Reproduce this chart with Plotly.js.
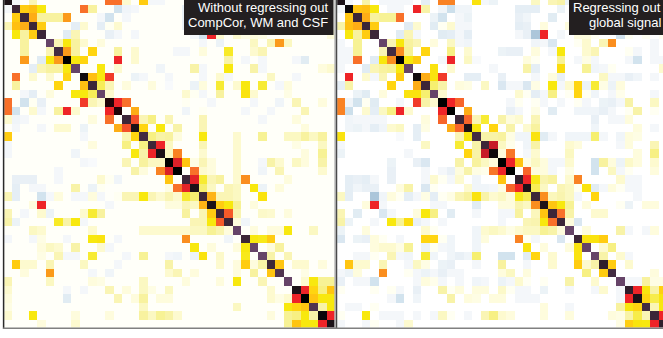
<!DOCTYPE html>
<html><head><meta charset="utf-8">
<script src="https://cdn.plot.ly/plotly-3.0.1.min.js"></script>
<style>html,body{margin:0;padding:0;background:#fff;overflow:hidden}#c{width:663px;height:338px}</style>
</head><body><div id="c"></div>
<script>
const leftTitleLines = ["Without regressing out","CompCor, WM and CSF"];
const rightTitleLines = ["Regressing out","global signal"];
const leftDiagonal = [85,90,90,90,90,100,92,80,100,83,90,100,78,78,90,85,92,90,85,80,80,90,85,90,85,90,90,100,90,100,100,90,95,100,85,80,95,82,85];
const rightDiagonal = [85,82,90,90,90,100,92,80,100,83,90,100,80,80,90,85,92,90,83,80,80,88,85,90,85,90,90,100,90,100,100,88,92,100,88,85,92,90,88];
// each row lists column: correlation (x100) for the columns right of the diagonal
const leftUpper = [
{1:-3,3:12,12:55,13:55,14:8,16:38,17:-3,18:-3,23:12,25:12,26:14,28:-3,33:12,34:8,35:6,36:5,37:8},
{2:38,3:42,4:28,9:55,10:15,13:-12,14:-4,15:-3,21:-6,22:-7,23:-7,26:-5,31:38},
{3:45,4:15,5:15,6:15,7:48,11:-3,12:-12,14:-3,21:-6,25:-3,31:8,32:6},
{4:38,8:-7,9:8,11:-7,12:3,13:8,21:-6,22:-3,24:6,27:10,28:-3,31:8,37:28},
{7:-8,8:12,12:-6,13:-3,15:-3,22:-3,23:-12,24:62,25:8,27:8,28:5,29:6,30:5,38:6},
{6:12,7:28,8:15,9:8,11:6,23:-3,25:-5,29:10,31:12,32:48,33:10},
{7:48,8:15,10:35,13:15,15:8,20:-3,21:-3,23:6,26:26,29:8,30:12},
{8:28,9:35,13:62,15:8,26:14,28:-3,30:-3,34:-3,35:-8},
{11:28,13:8,18:-4,22:14,23:-3,26:28,29:14,30:-3,37:6,38:8},
{10:42,11:28,12:60,15:-5,16:-3,19:-3,23:-3,25:8,26:-3,31:10,34:-3},
{11:22,12:12,14:6,17:6,19:-2,22:-5,23:6,25:25,27:8,28:28,30:25,32:-3,33:6},
{12:8,21:8,22:3,23:-3,25:15,28:30,29:8,33:5},
{13:62,14:55,21:3,24:-3,29:-3,32:-4,34:12,37:6},
{15:45,21:-4,23:3,28:-3,31:-3,35:12},
{15:58,16:12,17:18,19:12,23:12,30:-3,34:6},
{16:35,18:28,20:14,23:12,35:6},
{17:18,18:14,19:15,20:6,23:28,27:8,30:16,33:10,34:10,35:15,36:10,37:15},
{18:62,19:10,23:12,27:8,34:5,37:10},
{19:10,20:52,23:8,27:8,35:6,37:16},
{20:64,21:40,22:5,23:12,24:6,27:8,30:-3,31:14,32:8,34:10,35:6,37:14},
{22:55,23:8,24:6,27:8,30:-4,32:12,37:8},
{22:63,23:25,24:12,25:15,27:8,28:50,33:6},
{23:20,24:10,26:12,27:10,29:28,30:-5,32:6},
{24:44,25:12,26:12,27:10,30:30},
{25:38,26:28,27:16,29:6},
{26:57,27:13,30:9,31:8,33:6},
{27:6,28:-4},
{29:6,31:6,32:6,33:28,36:10},
{29:28,30:27,31:38},
{31:6,32:15},
{31:14,33:12},
{32:40,34:8,35:8,37:6},
{35:5},
{35:8,36:28,37:16,38:16},
{35:62,36:35,37:18,38:40},
{36:40,37:28,38:28},
{37:14,38:28},
{38:62},
{}
];
const rightUpper = [
{1:-3,3:14,5:-3,6:-3,7:-3,8:-3,10:-7,12:52,13:52,16:30,17:-3,18:-5,23:10,25:12,26:14,27:-5,28:-10,32:-3,33:-6,34:3,37:3,38:-3},
{2:40,3:42,4:28,6:-3,7:-3,9:62,10:14,12:-4,13:-14,14:-4,15:-4,21:-7,22:-7,23:-7,26:-5,31:40,32:-5,36:-3},
{3:45,4:15,5:16,6:16,7:55,11:-5,12:-12,14:-3,15:-5,21:-6,22:-4,25:-8,28:-5,30:-3,31:8,32:6,33:-3,36:-3},
{4:38,8:-8,9:8,11:-8,12:3,13:8,14:-3,15:-3,21:-7,22:-6,24:6,27:6,28:-6,30:-3,31:8,33:-3,37:28,38:-3},
{7:-8,8:12,9:-3,12:-8,13:-7,14:-3,15:-7,21:-3,22:-6,23:-25,24:62,26:-3,28:6,29:6,30:3,33:-12,34:3,36:3,38:3},
{6:12,7:28,8:15,9:12,11:6,13:10,14:-3,15:-4,23:-4,24:-3,25:-10,28:3,29:8,31:12,32:50,37:-3},
{7:50,8:16,10:35,13:18,15:8,19:-5,20:-6,21:-6,23:6,25:-3,26:28,29:8,30:12,34:3,35:-3,37:-3},
{8:28,9:38,12:-3,13:62,15:10,16:-2,22:6,23:3,26:16,28:-3,29:5,30:-3,34:-3,35:-12,37:-3,38:-3},
{11:30,13:8,18:-3,22:14,23:-7,26:32,29:16,30:-4,31:-3,32:3,38:8},
{10:45,11:30,12:60,15:-7,16:-7,19:-6,23:-3,25:6,26:-6,31:10,32:-3,33:-3,34:-6,35:-4,37:-3},
{11:20,12:14,14:6,15:5,17:10,19:-10,20:-3,21:-3,22:-10,23:5,25:28,26:-3,27:8,28:35,29:-5,30:25,31:5,32:-5,33:6},
{12:8,21:8,22:3,23:-7,24:-3,25:18,27:3,28:35,29:3,30:-4,32:-3,33:4,37:-3},
{13:62,14:56,20:-3,21:3,23:3,24:-3,26:-3,28:3,29:-3,31:-5,32:-6,33:-3,34:14,37:10},
{15:45,20:-6,21:-3,23:5,25:-8,28:-4,29:-4,30:-4,31:-6,32:-3,34:3,35:14,37:3},
{15:56,16:12,17:25,19:14,20:6,21:8,23:12,30:-6,32:-3,33:-3,34:6},
{16:28,18:35,20:14,22:8,23:15,30:-4,35:6,37:-3},
{17:14,18:14,19:15,20:5,21:-4,22:-4,23:30,24:-8,25:-3,27:-4,28:-4,29:-4,30:20,31:-3,33:-4,34:6,35:5},
{18:66,19:10,20:4,22:-4,23:14,27:8,28:6,33:-3,34:6,37:12},
{19:6,20:54,22:-3,23:8,27:10,35:6,37:18},
{20:62,21:40,22:5,23:10,24:6,25:-3,26:-3,27:8,30:-12,31:15,32:6,33:-5,34:9,35:6,37:8},
{22:56,23:6,24:6,25:-3,27:5,30:-12,32:10,33:-3,34:3,37:6},
{22:62,23:27,24:13,25:15,27:8,28:52,33:8,34:-3,35:-3},
{23:22,24:10,26:12,27:10,28:3,29:30,30:-8,31:-3,32:6,33:3,34:-3,35:-3},
{24:50,25:11,26:13,27:10,28:-3,30:35,35:-3},
{25:40,26:28,27:16,29:6,33:3,34:-5,36:6,37:6},
{26:55,27:14,30:8,31:8},
{27:6,28:-10},
{29:6,33:14,34:-3,36:-3,37:6},
{29:30,30:30,31:38},
{31:8,32:18},
{31:14,33:8,34:-3},
{32:38,34:8},
{37:6},
{34:-3,35:-3,36:15,37:5,38:5},
{35:62,36:29,37:14,38:37},
{36:35,37:23,38:29},
{37:12,38:28},
{38:62},
{}
];
// faint cream level of the cells too pale to read individually, per panel
const leftFaintLevel = 1.5;
const rightFaintLevel = 0;
function matrix(diag, upper, faint){
  const n = diag.length, z = [];
  for(let i=0;i<n;i++) z.push(new Array(n).fill(faint));
  upper.forEach((row,r)=>{ z[r][r]=diag[r]; for(const c in row){ z[r][+c]=row[c]; z[+c][r]=row[c]; } });
  return z;
}
const zMin=-30, zMax=100;
const stops=[[-30,'#9dbbd2'],[-12,'#d2e3ee'],[-3,'#f4f7fa'],[0,'#ffffff'],[3,'#fffff2'],[8,'#fdfacf'],[14,'#f8f3a8'],[20,'#f6ef70'],[28,'#f8e80e'],[35,'#ffd510'],[42,'#ffbf12'],[48,'#fb9a1a'],[55,'#f8702a'],[62,'#ee2428'],[70,'#a01428'],[80,'#000000'],[85,'#1c1218'],[90,'#3c2638'],[100,'#664468']];
const scale=stops.map(s=>[(s[0]-zMin)/(zMax-zMin),s[1]]);
const W=663,H=338;
function hm(z,xa,ya){return {type:'heatmap',z:z,xaxis:xa,yaxis:ya,zmin:zMin,zmax:zMax,colorscale:scale,showscale:false,hoverinfo:'skip'};}
const hid={visible:false,fixedrange:true};
const bottom=1-327.5/H;
const vl=(x,color,w)=>({type:'line',xref:'paper',yref:'paper',x0:x/W,x1:x/W,y0:1,y1:1-329/H,line:{color:color,width:w}});
const label=(text,right,mid)=>({text:text,xref:'paper',yref:'paper',x:right/W,y:1-mid/H,xanchor:'right',yanchor:'middle',align:'right',showarrow:false,borderpad:0,font:{family:'Liberation Sans, Arial, sans-serif',size:13,color:'#ffffff'}});
const layout={
  width:W,height:H,margin:{l:0,r:0,t:0,b:0},paper_bgcolor:'#fff',plot_bgcolor:'#fff',showlegend:false,
  xaxis:Object.assign({},hid,{domain:[4.3/W,334.5/W],range:[-0.35,38.4],anchor:'y'}),
  yaxis:Object.assign({},hid,{domain:[bottom,1],range:[38.38,-0.06],anchor:'x'}),
  xaxis2:Object.assign({},hid,{domain:[337.2/W,1],range:[-0.39,37.94],anchor:'y2'}),
  yaxis2:Object.assign({},hid,{domain:[bottom,1],range:[38.38,-0.06],anchor:'x2'}),
  shapes:[
    {type:'rect',xref:'paper',yref:'paper',x0:184/W,x1:333.5/W,y0:1-35/H,y1:1,fillcolor:'#231f20',line:{width:0}},
    {type:'rect',xref:'paper',yref:'paper',x0:569/W,x1:1,y0:1-35/H,y1:1,fillcolor:'#231f20',line:{width:0}},
    vl(3.6,'#2a2a2a',1.5),
    vl(335,'#9a9a9a',1),
    vl(336.5,'#4a4a4a',1.5),
    {type:'line',xref:'paper',yref:'paper',x0:3/W,x1:1,y0:1-328.2/H,y1:1-328.2/H,line:{color:'#808080',width:1.6}}
  ],
  annotations:[
    label(leftTitleLines[0],328.5,7.5),
    label(leftTitleLines[1],328.5,22.5),
    label(rightTitleLines[0],661.5,7.5),
    label(rightTitleLines[1],661.5,22.5)
  ]
};
Plotly.newPlot('c',[hm(matrix(leftDiagonal,leftUpper,leftFaintLevel),'x','y'),hm(matrix(rightDiagonal,rightUpper,rightFaintLevel),'x2','y2')],layout,{displayModeBar:false,staticPlot:true});
</script></body></html>
